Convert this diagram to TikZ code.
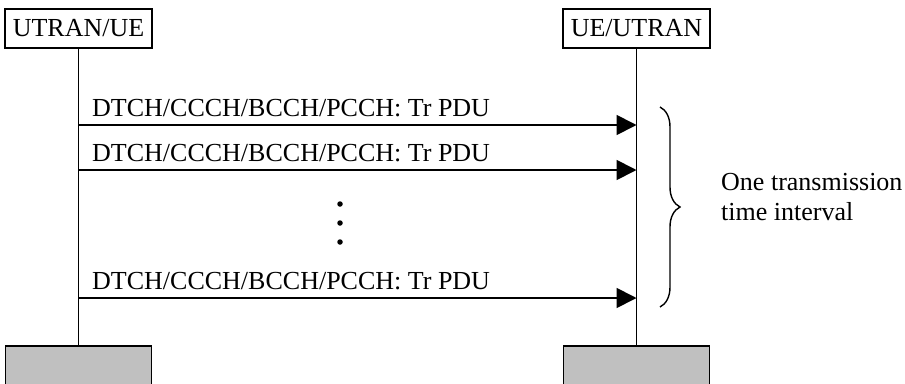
\documentclass[tikz,border=0pt]{standalone}
\usepackage{fontspec}
\setmainfont{Liberation Serif}
\usetikzlibrary{arrows.meta,decorations.pathreplacing}
\tikzset{
  txt/.style={font=\fontsize{26}{30}\selectfont, inner sep=0pt},
  hdr/.style={draw, line width=1.8pt, minimum width=147pt, minimum height=39pt, inner sep=0pt, font=\fontsize{26}{30}\selectfont},
  endbox/.style={draw, line width=1.8pt, fill={rgb,255:red,192;green,192;blue,192}, minimum width=146pt, minimum height=60pt, inner sep=0pt},
  life/.style={line width=1.8pt},
  msg/.style={line width=1.8pt, -{Triangle[length=20pt,width=20pt]}},
  dot/.style={circle, fill=black, minimum size=5.5pt, inner sep=0pt},
}
\begin{document}
\begin{tikzpicture}[x=1pt,y=-1pt]
\useasboundingbox (0,0) rectangle (905,383);
% headers
\node[hdr] (a) at (78.5,28.5) {UTRAN/UE};
\node[hdr] (b) at (636.5,28.5) {UE/UTRAN};
% end boxes
\node[endbox] (ae) at (78.5,376) {};
\node[endbox] (be) at (636.5,376) {};
% lifelines
\draw[life] (a.south) -- (ae.north);
\draw[life] (b.south) -- (be.north);
% messages
\coordinate (s1) at (a.south |- 0,125);
\coordinate (e1) at (b.south |- 0,125);
\coordinate (s2) at (a.south |- 0,170);
\coordinate (e2) at (b.south |- 0,170);
\coordinate (s3) at (a.south |- 0,298);
\coordinate (e3) at (b.south |- 0,298);
\draw[msg] (s1) -- (e1);
\draw[msg] (s2) -- (e2);
\draw[msg] (s3) -- (e3);
\node[txt, anchor=base west] (l1) at (92,116) {DTCH/CCCH/BCCH/PCCH: Tr PDU};
\node[txt, anchor=base west] (l2) at (92,161) {DTCH/CCCH/BCCH/PCCH: Tr PDU};
\node[txt, anchor=base west] (l3) at (92,289) {DTCH/CCCH/BCCH/PCCH: Tr PDU};
% dots
\node[dot] (d1) at (340,204) {};
\node[dot] (d2) at (340,223) {};
\node[dot] (d3) at (340,242) {};
% brace
\coordinate (bt) at (660,107);
\coordinate (bb) at (660,307);
\draw[line width=1.4pt, decorate, decoration={brace, amplitude=20pt}] (bt) -- (bb);
\node[txt, anchor=base west, align=left] (tti) at (721,220) {One transmission\\time interval};
\end{tikzpicture}
\end{document}
